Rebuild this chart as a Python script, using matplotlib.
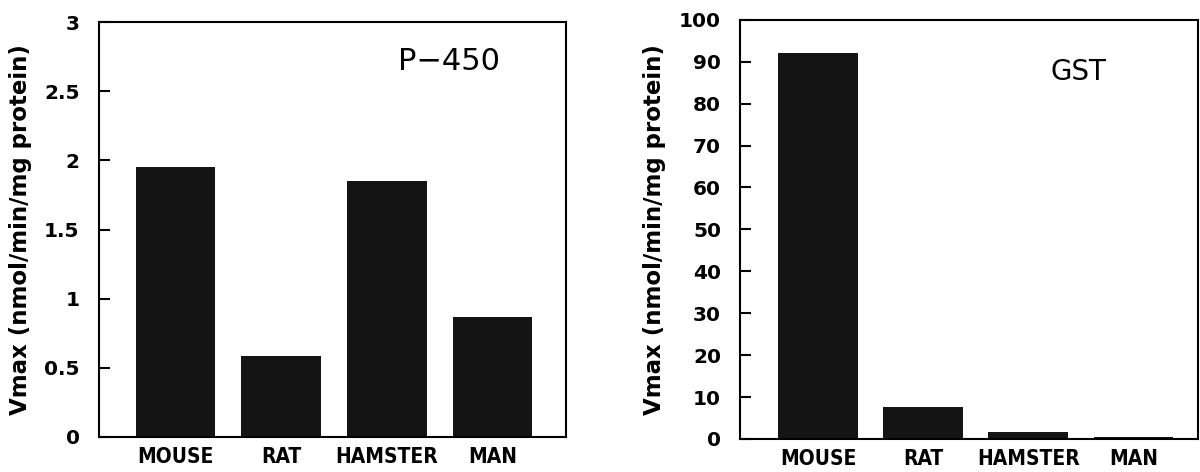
import matplotlib
matplotlib.use("Agg")
import matplotlib.pyplot as plt
import numpy as np

species = ["MOUSE", "RAT", "HAMSTER", "MAN"]
p450_vmax = [1.95, 0.585, 1.85, 0.87]
gst_vmax = [92, 7.6, 1.7, 0.5]

p450_ticks = [0, 0.5, 1, 1.5, 2, 2.5, 3]
p450_ticklabels = ["0", "0.5", "1", "1.5", "2", "2.5", "3"]
gst_ticks = list(range(0, 101, 10))

YLABEL = "Vmax (nmol/min/mg protein)"
BAR_COLOR = "#141414"

plt.rcParams["font.family"] = "DejaVu Sans"

fig = plt.figure(figsize=(12, 4.72), dpi=100)
ax1 = fig.add_axes([0.0825, 0.0742, 0.389, 0.879])
ax2 = fig.add_axes([0.617, 0.070, 0.381, 0.888])

x = np.arange(len(species))


def style(ax, ticks, ticklabels, ylim, xlim):
    ax.set_ylim(*ylim)
    ax.set_xlim(*xlim)
    ax.set_yticks(ticks)
    ax.set_yticklabels(ticklabels, fontsize=14.5, fontweight="bold")
    ax.set_xticks(x)
    ax.set_xticklabels(species, fontsize=15, fontweight="bold",
                       fontstretch="condensed")
    ax.tick_params(axis="y", direction="in", length=8, width=1.5, pad=14)
    ax.tick_params(axis="x", length=0, pad=7)
    for s in ax.spines.values():
        s.set_linewidth(1.5)
    ax.set_ylabel(YLABEL, fontsize=16.5, fontweight="bold", labelpad=9)


# ── P-450 ────────────────────────────────────────────────────────────────────
ax1.bar(x, p450_vmax, width=0.75, color=BAR_COLOR)
style(ax1, p450_ticks, p450_ticklabels, (0, 3), (-0.72, 3.69))
ax1.text(0.75, 0.905, "P\u2212450", transform=ax1.transAxes, fontsize=22,
         ha="center", va="center")

# ── GST ──────────────────────────────────────────────────────────────────────
ax2.bar(x, gst_vmax, width=0.76, color=BAR_COLOR)
style(ax2, gst_ticks, [str(t) for t in gst_ticks], (0, 100), (-0.74, 3.61))
ax2.text(0.74, 0.875, "GST", transform=ax2.transAxes, fontsize=20,
         ha="center", va="center")

fig.savefig("out.png", dpi=100)
